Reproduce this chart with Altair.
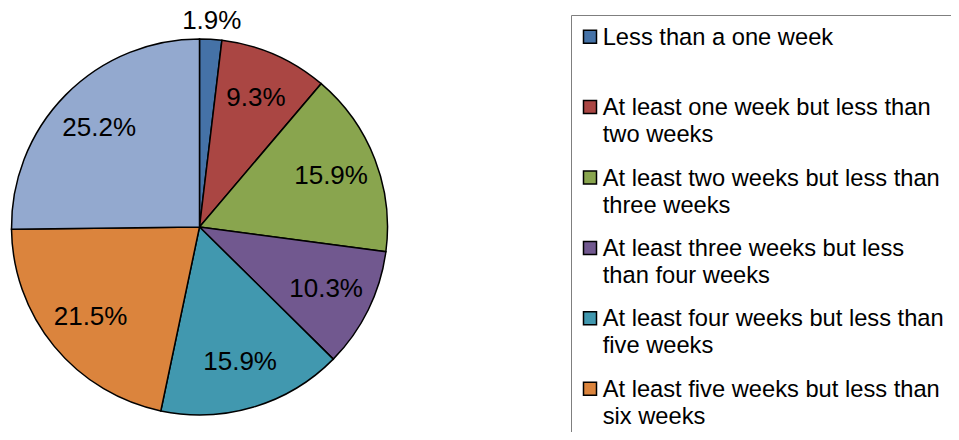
import altair as alt
import pandas as pd

categories = [
    "Less than a one week",
    "At least one week but less than two weeks",
    "At least two weeks but less than three weeks",
    "At least three weeks but less than four weeks",
    "At least four weeks but less than five weeks",
    "At least five weeks but less than six weeks",
    "Six weeks or more",
]
legend_labels = [
    "Less than a one week",
    "At least one week but less than\ntwo weeks",
    "At least two weeks but less than\nthree weeks",
    "At least three weeks but less\nthan four weeks",
    "At least four weeks but less than\nfive weeks",
    "At least five weeks but less than\nsix weeks",
    "Six weeks or more",
]
shares = [1.9, 9.3, 15.9, 10.3, 15.9, 21.5, 25.2]
label_text = ["1.9%", "9.3%", "15.9%", "10.3%", "15.9%", "21.5%", "25.2%"]
colors = ["#4572A7", "#AA4643", "#89A54E", "#71588F", "#4198AF", "#DB843D", "#93A9CF"]

df = pd.DataFrame({
    "category": categories,
    "share": shares,
    "order": list(range(len(categories))),
    "legend": legend_labels,
    "label": label_text,
})

FONT = "Liberation Sans"
base = alt.Chart(df)
cscale = alt.Scale(domain=categories, range=colors)
tscale = alt.Scale(domain=[0, 100])
cx, cy = 191.5, 219

pie = base.mark_arc(outerRadius=188, stroke="black", strokeWidth=1.5).encode(
    theta=alt.Theta("share:Q", stack=True, scale=tscale),
    order=alt.Order("order:Q"),
    color=alt.Color("category:N", scale=cscale, legend=None),
    x=alt.value(cx),
    y=alt.value(cy),
)

labels = base.transform_window(
    cum="sum(share)", sort=[alt.SortField("order")]
).transform_calculate(
    mid="datum.cum - datum.share / 2",
    lr="datum.share < 5 ? 206 : 141",
).mark_text(font=FONT, fontSize=26, color="black", align="center", baseline="middle").encode(
    theta=alt.Theta("mid:Q", stack=None, scale=tscale),
    radius=alt.Radius("lr:Q", scale=None),
    text="label:N",
    x=alt.value(cx),
    y=alt.value(cy),
)

yscale = alt.Scale(type="point", domain=categories, range=[28.7, 28.7 + 6 * 70.4], padding=0)

border = alt.Chart(pd.DataFrame({"a": [0]})).mark_rect(
    fill="white", stroke="#7f7f7f", strokeWidth=1
).encode(x=alt.value(563.5), x2=alt.value(1400), y=alt.value(7.5), y2=alt.value(900))

legend_base = base.transform_filter("datum.order < 6")

sym = legend_base.mark_point(shape="square", size=169, filled=True, stroke="black",
                             strokeWidth=1.5, opacity=1).encode(
    x=alt.value(582),
    y=alt.Y("category:N", scale=yscale, axis=None),
    fill=alt.Fill("category:N", scale=cscale, legend=None),
)

txt = legend_base.mark_text(align="left", baseline="alphabetic", dy=8, lineBreak="\n",
                            lineHeight=27, fontSize=23.7, font=FONT, color="black").encode(
    x=alt.value(594.7),
    y=alt.Y("category:N", scale=yscale, axis=None),
    text="legend:N",
)

chart = alt.layer(border, pie, labels, sym, txt).properties(
    width=943, height=424,
    autosize=alt.AutoSizeParams(type="none"),
    padding=0,
).configure_view(stroke=None)

chart.save("out.html", embed_options={"renderer": "svg", "actions": False})
